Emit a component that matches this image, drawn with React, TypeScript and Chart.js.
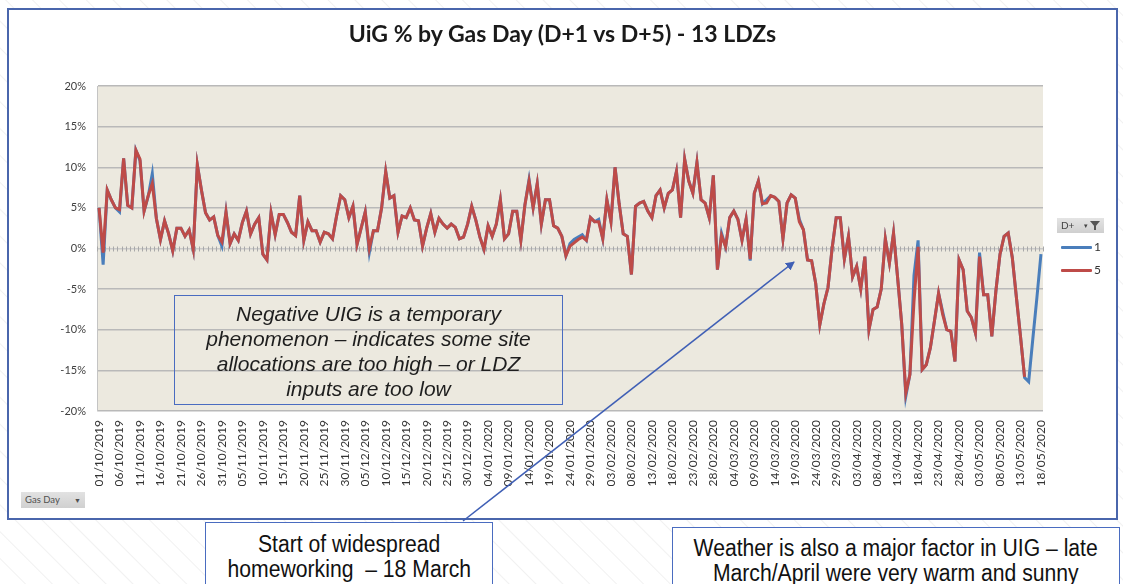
import React, { useEffect, useRef } from 'react';
import { Chart, registerables } from 'chart.js';

Chart.register(...registerables);

// ---------- data ----------
const firstGasDay = '2019-10-01';
const dayCount = 231; // 01/10/2019 .. 18/05/2020

function buildGasDays(start: string, n: number): string[] {
  const out: string[] = [];
  const d0 = new Date(start + 'T00:00:00Z');
  for (let i = 0; i < n; i++) {
    const d = new Date(d0.getTime() + i * 86400000);
    const dd = String(d.getUTCDate()).padStart(2, '0');
    const mm = String(d.getUTCMonth() + 1).padStart(2, '0');
    out.push(`${dd}/${mm}/${d.getUTCFullYear()}`);
  }
  return out;
}
const gasDays = buildGasDays(firstGasDay, dayCount);

// D+5 (red)
const uigD5: (number | null)[] = [
  5.0, -0.5, 7.2, 6.0, 5.0, 4.8, 11.1, 5.3, 5.0, 12.1,
  11.0, 4.6, 6.5, 8.0, 3.7, 1.1, 3.4, 1.8, -0.3, 2.5,
  2.5, 1.5, 2.3, -0.1, 10.3, 7.2, 4.4, 3.5, 3.9, 1.6,
  0.8, 4.5, 0.6, 1.8, 1.0, 3.2, 4.6, 1.8, 3.0, 3.8,
  -0.7, -1.4, 4.4, 1.7, 4.2, 4.2, 3.2, 2.0, 1.6, 6.5,
  1.0, 3.3, 2.2, 2.2, 0.8, 2.0, 1.8, 1.2, 4.0, 6.5,
  6.0, 3.8, 5.2, 0.5, 2.5, 4.5, 0.0, 2.2, 2.2, 5.0,
  9.5, 6.2, 6.5, 2.0, 4.0, 3.8, 5.0, 3.5, 3.4, 0.3,
  2.5, 4.3, 2.0, 3.7, 3.0, 2.5, 3.0, 2.6, 1.2, 1.4,
  3.0, 5.2, 3.5, 1.4, -0.1, 2.8, 1.5, 3.0, 6.0, 1.2,
  1.8, 4.6, 4.6, 1.0, 5.4, 8.3, 5.0, 8.0, 3.0, 6.0,
  6.0, 2.8, 2.5, 1.5, -0.9, 0.3, 0.7, 1.1, 1.4, 1.0,
  3.8, 3.3, 3.3, 1.2, 6.0, 3.3, 10.0, 5.5, 1.8, 1.5,
  -3.2, 5.2, 5.6, 5.8, 4.6, 3.8, 6.5, 7.2, 5.0, 6.8,
  7.2, 9.5, 3.8, 11.0, 8.3, 6.8, 10.6, 6.0, 5.6, 3.8,
  9.0, -2.6, 1.6, 0.2, 3.8, 4.6, 3.6, 1.0, 3.6, -1.3,
  6.8, 8.3, 5.5, 5.6, 6.5, 6.3, 5.8, 1.2, 5.6, 6.6,
  6.2, 3.3, 2.3, -1.4, -1.5, -4.3, -9.4, -6.8, -4.8, 0.0,
  3.8, 3.8, -1.3, 1.5, -3.5, -2.2, -5.0, -1.0, -10.0, -7.5,
  -7.2, -5.0, 1.2, -1.8, 1.9, -3.6, -9.3, -17.8, -15.5, -6.5,
  0.2, -14.9, -14.3, -12.2, -8.9, -5.5, -8.1, -10.0, -10.2, -13.9,
  -1.4, -2.6, -7.7, -8.5, -10.4, -1.0, -5.7, -5.7, -10.8, -5.2,
  -0.7, 1.5, 1.9, -1.1, -6.0, -10.8, -15.8, null, null, null,
  null,
];

// D+1 (blue)
const uigD1: (number | null)[] = [
  5.0, -2.0, 7.2, 6.0, 5.0, 4.5, 11.1, 5.3, 5.0, 12.1,
  10.8, 4.6, 6.4, 9.2, 3.7, 1.1, 3.4, 1.8, -0.3, 2.5,
  2.5, 1.5, 2.3, -0.1, 10.3, 7.2, 4.4, 3.5, 3.9, 1.6,
  0.3, 4.5, 0.6, 1.8, 1.0, 3.2, 4.6, 1.8, 3.0, 3.8,
  -0.7, -1.4, 4.4, 1.7, 4.2, 4.2, 3.2, 2.0, 1.6, 6.5,
  1.0, 3.3, 2.2, 2.2, 0.8, 2.0, 1.8, 1.2, 4.0, 6.5,
  6.0, 3.8, 5.2, 0.5, 2.5, 4.5, -0.5, 2.2, 2.2, 5.0,
  9.5, 6.2, 6.5, 2.0, 4.0, 3.8, 5.0, 3.5, 3.4, 0.3,
  2.5, 4.3, 2.0, 3.7, 3.0, 2.5, 3.0, 2.6, 1.2, 1.4,
  3.0, 5.2, 3.5, 1.4, -0.1, 2.8, 1.5, 3.0, 6.0, 1.2,
  1.8, 4.6, 4.6, 1.0, 5.4, 8.5, 5.0, 8.0, 3.0, 6.0,
  6.0, 2.8, 2.5, 1.5, -0.9, 0.6, 1.1, 1.4, 1.7, 1.0,
  3.8, 3.3, 3.6, 1.2, 6.0, 3.3, 10.0, 5.5, 1.8, 1.5,
  -3.2, 5.2, 5.6, 5.8, 4.6, 3.8, 6.5, 7.2, 5.0, 6.8,
  7.2, 9.5, 3.8, 11.0, 8.3, 6.8, 10.6, 6.0, 5.6, 3.8,
  9.0, -2.6, 1.9, 0.2, 3.8, 4.6, 3.6, 1.0, 3.6, -1.5,
  6.8, 8.3, 5.5, 6.0, 6.5, 6.3, 5.8, 1.2, 5.6, 6.6,
  6.2, 3.6, 2.3, -1.4, -1.5, -4.3, -9.4, -6.8, -4.8, 0.0,
  3.8, 3.8, -1.3, 1.5, -3.5, -2.2, -5.0, -1.0, -10.0, -7.5,
  -7.2, -5.0, 1.2, -1.8, 1.9, -3.6, -9.3, -18.2, -15.5, -3.3,
  1.0, -14.9, -14.3, -12.2, -8.9, -5.5, -7.8, -10.0, -10.2, -13.9,
  -1.4, -2.6, -7.7, -8.5, -10.4, -0.5, -5.7, -5.7, -10.8, -5.2,
  -0.7, 1.5, 1.9, -1.1, -6.0, -10.8, -15.9, -16.4, -11.2, -6.1,
  -0.7,
];

const yTicks = [-20, -15, -10, -5, 0, 5, 10, 15, 20];
const labelEvery = 5;
const seriesNames = ['1', '5'];

const BLUE = '#4A7EBB';
const RED = '#BE4B48';
const FRAME = '#4A66AC';
const NOTE_BORDER = '#4A6CC0';

const plotPlugin = {
  id: 'plotDecor',
  beforeDraw(chart: any) {
    const { ctx, chartArea: a } = chart;
    ctx.save();
    ctx.fillStyle = '#ECE9DF';
    ctx.fillRect(a.left, a.top, a.right - a.left, a.bottom - a.top);
    ctx.restore();
  },
  beforeDatasetsDraw(chart: any) {
    const { ctx, chartArea: a, scales } = chart;
    const y0 = scales.y.getPixelForValue(0);
    const n = gasDays.length;
    const w = (a.right - a.left) / n;
    ctx.save();
    ctx.strokeStyle = '#A8A8A8';
    ctx.lineWidth = 1;
    ctx.beginPath();
    for (let i = 0; i <= n; i++) {
      const x = Math.round(a.left + i * w) + 0.5;
      ctx.moveTo(x, y0 - 2);
      ctx.lineTo(x, y0 + 3);
    }
    ctx.stroke();
    ctx.restore();
  },
};

function UigChart() {
  const ref = useRef<HTMLCanvasElement>(null);
  useEffect(() => {
    if (!ref.current) return;
    const chart = new Chart(ref.current, {
      type: 'line',
      data: {
        labels: gasDays,
        datasets: [
          {
            label: seriesNames[0],
            data: uigD1,
            borderColor: BLUE,
            backgroundColor: BLUE,
            borderWidth: 3,
            pointRadius: 0,
            tension: 0,
            order: 1,
          },
          {
            label: seriesNames[1],
            data: uigD5,
            borderColor: RED,
            backgroundColor: RED,
            borderWidth: 3,
            pointRadius: 0,
            tension: 0,
            order: 0,
          },
        ],
      },
      options: {
        responsive: false,
        animation: false,
        layout: { padding: { left: 57, top: 86, right: 80, bottom: 34 } },
        plugins: {
          legend: { display: false },
          title: { display: false },
          tooltip: { enabled: false },
        },
        scales: {
          x: {
            type: 'category',
            offset: true,
            grid: { display: false, drawTicks: false, tickLength: 0 },
            border: { display: false },
            ticks: {
              autoSkip: false,
              minRotation: 90,
              maxRotation: 90,
              padding: 9,
              color: '#333333',
              font: { family: 'Lato', size: 12 },
              callback: function (this: any, val: any, idx: number) {
                return idx % labelEvery === 0 ? this.getLabelForValue(val) : '';
              },
            },
            afterFit(scale: any) {
              scale.height = 75;
            },
          },
          y: {
            min: -20,
            max: 20,
            afterBuildTicks(scale: any) {
              scale.ticks = yTicks.map((v) => ({ value: v }));
            },
            grid: {
              color: (c: any) => (c.tick && c.tick.value === 0 ? '#C9C9C9' : '#B9B9B9'),
              lineWidth: 1.5,
              drawTicks: false,
            },
            border: { display: true, color: '#C4C4C4', width: 1 },
            ticks: {
              padding: 11,
              color: '#404040',
              font: { family: 'Lato', size: 11 },
              callback: (v: any) => `${v}%`,
            },
            afterFit(scale: any) {
              scale.width = 40;
            },
          },
        },
      },
      plugins: [plotPlugin],
    } as any);
    return () => chart.destroy();
  }, []);
  return (
    <canvas
      ref={ref}
      width={1123}
      height={520}
      style={{ position: 'absolute', left: 0, top: 0, width: 1123, height: 520 }}
    />
  );
}

export default function App() {
  const abs = (o: React.CSSProperties): React.CSSProperties => ({ position: 'absolute', ...o });
  const SANS = '"Liberation Sans", Arial, sans-serif';
  const narrow: React.CSSProperties = {
    display: 'inline-block',
    transform: 'scaleX(0.92)',
    transformOrigin: 'center',
  };
  return (
    <div
      style={abs({
        left: 0,
        top: 0,
        width: 1123,
        height: 584,
        overflow: 'hidden',
        background:
          'repeating-linear-gradient(45deg, #ffffff 0px, #ffffff 17px, #f1f1f1 18px, #ffffff 19px)',
        fontFamily: SANS,
      })}
    >
      {/* chart frame */}
      <div
        style={abs({
          left: 7,
          top: 8,
          width: 1107,
          height: 508,
          border: `2px solid ${FRAME}`,
          background: '#ffffff',
        })}
      />
      <UigChart />
      {/* title */}
      <div
        style={abs({
          left: 8,
          top: 19,
          width: 1109,
          textAlign: 'center',
          fontFamily: 'Lato',
          fontWeight: 700,
          fontSize: 23,
          lineHeight: '28px',
          color: '#1a1a1a',
        })}
      >
        UiG % by Gas Day (D+1 vs D+5) - 13 LDZs
      </div>
      {/* in-chart note */}
      <div
        style={abs({
          left: 174,
          top: 295,
          width: 389,
          height: 110,
          border: `1px solid ${NOTE_BORDER}`,
          textAlign: 'center',
          fontStyle: 'italic',
          fontFamily: SANS,
          fontSize: 21,
          lineHeight: '25px',
          paddingTop: 5,
          boxSizing: 'border-box',
          color: '#1e1e1e',
          whiteSpace: 'nowrap',
        })}
      >
        Negative UIG is a temporary
        <br />
        phenomenon – indicates some site
        <br />
        allocations are too high – or LDZ
        <br />
        inputs are too low
      </div>
      {/* legend */}
      <div
        style={abs({
          left: 1057,
          top: 218,
          width: 47,
          height: 15,
          background: 'linear-gradient(#e4e4e4, #cfcfcf)',
          fontSize: 10,
          lineHeight: '15px',
          color: '#444',
          fontFamily: 'Lato',
        })}
      >
        <span style={{ position: 'absolute', left: 4 }}>D+</span>
        <span style={{ position: 'absolute', left: 27, fontSize: 7 }}>▾</span>
        <span
          style={abs({
            left: 33,
            top: 3,
            width: 0,
            height: 0,
            borderLeft: '5px solid transparent',
            borderRight: '5px solid transparent',
            borderTop: '6px solid #555',
          })}
        />
        <span style={abs({ left: 37, top: 8, width: 2, height: 4, background: '#555' })} />
      </div>
      <div style={abs({ left: 1061, top: 246, width: 31, height: 3, background: BLUE, borderRadius: 1 })} />
      <div style={abs({ left: 1094, top: 239, fontSize: 12, lineHeight: '16px', color: '#333', fontFamily: 'Lato' })}>
        {seriesNames[0]}
      </div>
      <div style={abs({ left: 1061, top: 269, width: 31, height: 3, background: RED, borderRadius: 1 })} />
      <div style={abs({ left: 1094, top: 262, fontSize: 12, lineHeight: '16px', color: '#333', fontFamily: 'Lato' })}>
        {seriesNames[1]}
      </div>
      {/* Gas Day field button */}
      <div
        style={abs({
          left: 21,
          top: 492,
          width: 64,
          height: 16,
          background: 'linear-gradient(#e2e2e2, #d0d0d0)',
          fontSize: 9.5,
          lineHeight: '16px',
          color: '#505050',
          fontFamily: 'Lato',
        })}
      >
        <span style={{ position: 'absolute', left: 4 }}>Gas Day</span>
        <span style={{ position: 'absolute', left: 53, fontSize: 7 }}>▼</span>
      </div>
      {/* bottom notes */}
      <div
        style={abs({
          left: 205,
          top: 522,
          width: 288,
          height: 90,
          border: `1px solid ${NOTE_BORDER}`,
          boxSizing: 'border-box',
          background: '#fff',
          textAlign: 'center',
          fontFamily: SANS,
          fontSize: 23,
          lineHeight: '25px',
          paddingTop: 9,
          color: '#111',
          whiteSpace: 'nowrap',
        })}
      >
        <span style={narrow}>Start of widespread</span>
        <br />
        <span style={narrow}>homeworking&nbsp; – 18 March</span>
      </div>
      <div
        style={abs({
          left: 672,
          top: 527,
          width: 448,
          height: 90,
          border: `1px solid ${NOTE_BORDER}`,
          boxSizing: 'border-box',
          background: '#fff',
          textAlign: 'center',
          fontFamily: SANS,
          fontSize: 23,
          lineHeight: '25px',
          paddingTop: 8,
          color: '#111',
          whiteSpace: 'nowrap',
        })}
      >
        <span style={narrow}>Weather is also a major factor in UIG – late</span>
        <br />
        <span style={narrow}>March/April were very warm and sunny</span>
      </div>
      {/* arrow */}
      <svg width={1123} height={584} style={abs({ left: 0, top: 0, pointerEvents: 'none' })}>
        <defs>
          <marker id="ah" markerWidth="9" markerHeight="9" refX="8" refY="4.5" orient="auto" markerUnits="userSpaceOnUse">
            <path d="M0,0 L9,4.5 L0,9 z" fill="#3F5FB5" />
          </marker>
        </defs>
        <line x1={463} y1={521} x2={794} y2={262} stroke="#3F5FB5" strokeWidth={1.5} markerEnd="url(#ah)" />
      </svg>
    </div>
  );
}
